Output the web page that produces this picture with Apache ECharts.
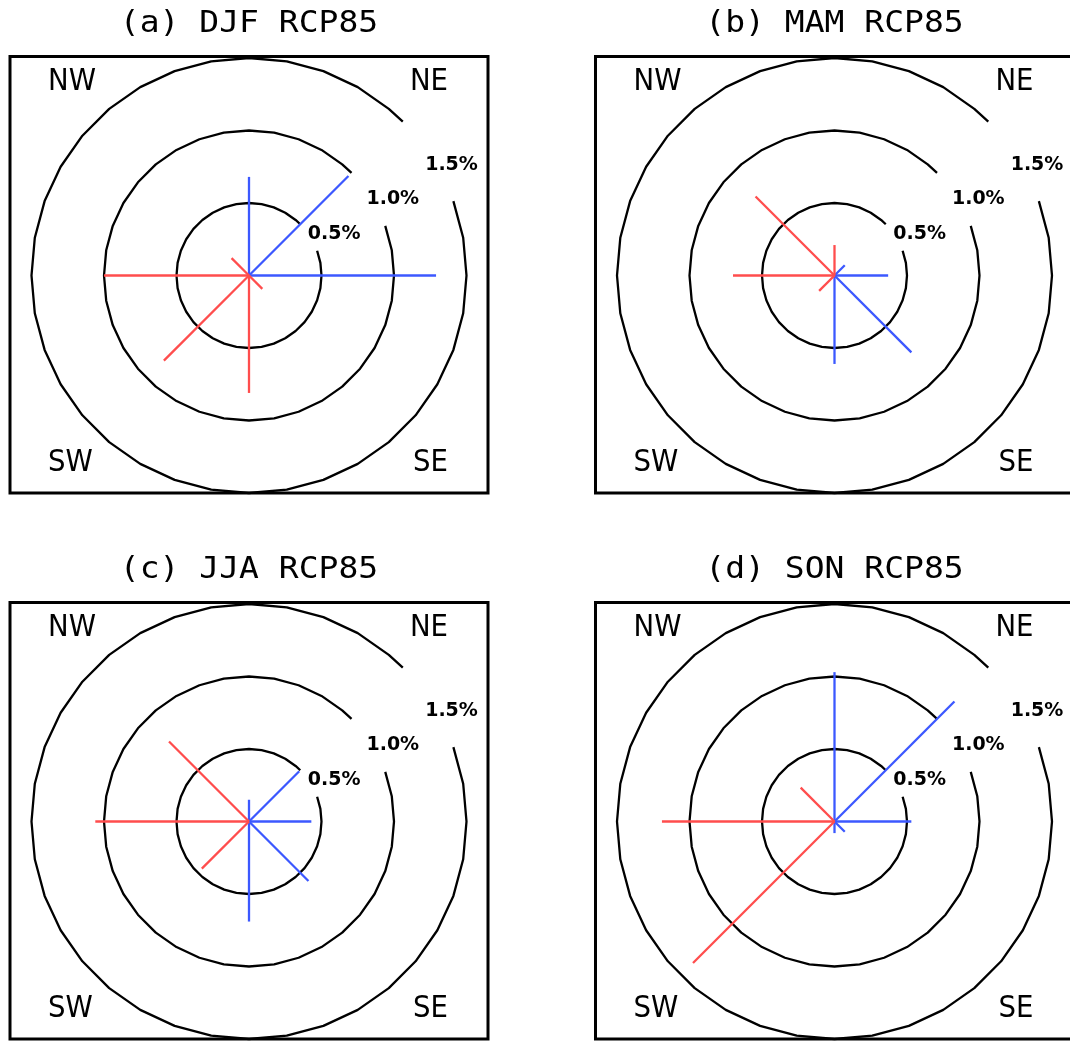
<!DOCTYPE html>
<html>
<head>
<meta charset="utf-8">
<title>Seasonal wind direction frequency change, RCP85</title>
<script src="https://cdn.jsdelivr.net/npm/echarts@6/dist/echarts.min.js"></script>
<style>
  html, body { margin: 0; padding: 0; background: #ffffff; }
  #chart { width: 1070px; height: 1041px; }
</style>
</head>
<body>
<div id="chart"></div>
<script>
// Eight compass directions, clockwise from north (degrees)
const directions = ['N', 'NE', 'E', 'SE', 'S', 'SW', 'W', 'NW'];
const directionAngles = [0, 45, 90, 135, 180, 225, 270, 315];

// Change in direction frequency (%), positive = increase, negative = decrease
const djf = [0.68, 0.97, 1.29, -0.13, -0.81, -0.83, -1.00, -0.17];
const mam = [-0.21, 0.10, 0.37, 0.75, 0.61, -0.15, -0.70, -0.77];
const jja = [0.15, 0.49, 0.43, 0.58, 0.69, -0.46, -1.06, -0.78];
const son = [1.03, 1.17, 0.53, 0.10, 0.08, -1.38, -1.19, -0.33];

// Reference rings (%)
const rings = [0.5, 1.0, 1.5];

const panelTitles = ['(a) DJF RCP85', '(b) MAM RCP85', '(c) JJA RCP85', '(d) SON RCP85'];
const panelValues = [djf, mam, jja, son];
const cornerLabels = ['NW', 'NE', 'SW', 'SE'];

// Layout
const centers = [[249, 275.5], [834.5, 275.5], [249, 821.5], [834.5, 821.5]];
const plotRadius = 217.5;
const RED = '#ff4d4d';
const BLUE = '#3c58ff';
const GAP_START = 45, GAP_END = 70;   // ring gap (deg) where the ring label sits

const chart = echarts.init(document.getElementById('chart'), null, { renderer: 'canvas' });

const polar = centers.map(c => ({ center: c, radius: plotRadius }));
const angleAxis = centers.map((c, i) => ({
  polarIndex: i, type: 'value', min: 0, max: 360,
  startAngle: 90, clockwise: true, show: false
}));
const radiusAxis = centers.map((c, i) => ({
  polarIndex: i, type: 'value', min: 0, max: 1.5, show: false
}));

function renderRing(params, api) {
  const r = api.value(0);
  const pts = [];
  for (let a = GAP_END; a <= 360 + GAP_START; a += (a < 360 + 40 ? 10 : 5)) {
    pts.push(api.coord([r, a % 360]));
  }
  const lp = api.coord([r * 0.94, 59.5]);
  return {
    type: 'group',
    children: [
      {
        type: 'polyline',
        shape: { points: pts },
        style: { stroke: '#000', lineWidth: 2.3, fill: null, lineJoin: 'round' }
      },
      {
        type: 'text',
        x: lp[0], y: lp[1] - 7,
        style: {
          text: r.toFixed(1) + '%',
          fill: '#000',
          font: 'bold 19px "DejaVu Sans"',
          align: 'left',
          verticalAlign: 'middle'
        }
      }
    ]
  };
}

function renderSegment(params, api) {
  const r = api.value(0);
  const a = api.value(1);
  const s = api.value(2);
  const p0 = api.coord([0, a]);
  const p1 = api.coord([r, a]);
  return {
    type: 'line',
    shape: { x1: p0[0], y1: p0[1], x2: p1[0], y2: p1[1] },
    style: { stroke: s < 0 ? RED : BLUE, lineWidth: 2.3, lineCap: 'butt' }
  };
}

const series = [];
panelValues.forEach((vals, i) => {
  series.push({
    type: 'custom',
    name: 'rings' + i,
    coordinateSystem: 'polar',
    polarIndex: i,
    encode: { radius: 0, angle: 1 },
    data: rings.map(r => [r, 0]),
    renderItem: renderRing,
    silent: true
  });
  // blue (increase) first, red (decrease) on top
  const segs = vals.map((v, k) => [Math.abs(v), directionAngles[k], Math.sign(v)]);
  segs.sort((p, q) => q[2] - p[2]);
  series.push({
    type: 'custom',
    name: 'change' + i,
    coordinateSystem: 'polar',
    polarIndex: i,
    encode: { radius: 0, angle: 1 },
    data: segs,
    renderItem: renderSegment,
    silent: true
  });
});

// Frames, titles and corner labels
const BOX_W = 478, BOX_H = 436.5;
const graphic = [];
centers.forEach((c, i) => {
  const left = c[0] - 239, top = c[1] - 219;
  const right = left + BOX_W, bottom = top + BOX_H;
  graphic.push({
    type: 'rect',
    shape: { x: left, y: top, width: BOX_W, height: BOX_H },
    style: { stroke: '#000', lineWidth: 3, fill: null },
    silent: true
  });
  graphic.push({
    type: 'text',
    x: c[0], y: top - 32,
    scaleX: 1.1,
    style: {
      text: panelTitles[i], fill: '#000',
      font: '30px "DejaVu Sans Mono"',
      align: 'center', verticalAlign: 'middle'
    }
  });
  const corners = [
    [cornerLabels[0], left + 38, top + 26, 'left'],
    [cornerLabels[1], right - 40, top + 26, 'right'],
    [cornerLabels[2], left + 38, bottom - 30, 'left'],
    [cornerLabels[3], right - 40, bottom - 30, 'right']
  ];
  corners.forEach(([t, x, y, al]) => {
    graphic.push({
      type: 'text',
      x: x, y: y,
      scaleX: 0.92,
      style: {
        text: t, fill: '#000',
        font: '30px "DejaVu Sans"',
        align: al, verticalAlign: 'middle'
      }
    });
  });
});

chart.setOption({
  backgroundColor: '#ffffff',
  animation: false,
  polar: polar,
  angleAxis: angleAxis,
  radiusAxis: radiusAxis,
  series: series,
  graphic: graphic
});
</script>
</body>
</html>
